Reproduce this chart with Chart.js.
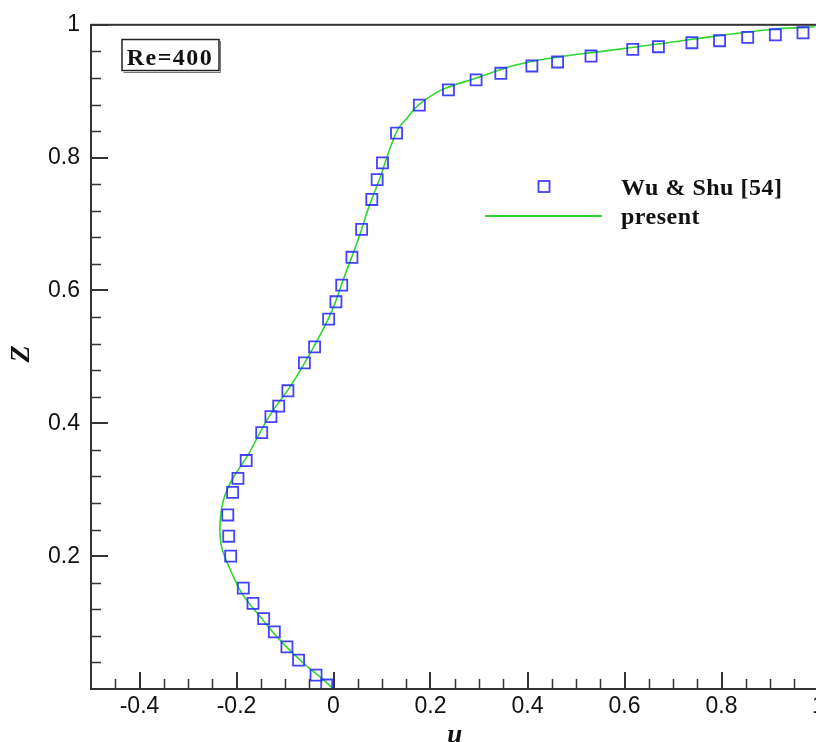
<!DOCTYPE html>
<html>
<head>
<meta charset="utf-8">
<script src="https://cdn.jsdelivr.net/npm/chart.js@4.4.1/dist/chart.umd.min.js"></script>
<style>
  html, body { margin: 0; padding: 0; background: #fff; overflow: hidden; }
  #wrap { position: absolute; left: 0; top: 0; width: 832px; height: 742px; }
</style>
</head>
<body>
<div id="wrap"><canvas id="profileChart" width="832" height="742"></canvas></div>
<script>
// --- DATA ---

// Wu & Shu [54] reference points: u velocity vs Z
const wuShuU = [-0.014, -0.036, -0.072, -0.096, -0.122, -0.144, -0.166, -0.186,
  -0.212, -0.216, -0.218, -0.208, -0.197, -0.180, -0.148, -0.129, -0.113, -0.094,
  -0.060, -0.039, -0.010, 0.005, 0.017, 0.038, 0.058, 0.079, 0.090, 0.101, 0.130,
  0.177, 0.237, 0.294, 0.345, 0.409, 0.462, 0.531, 0.617, 0.670, 0.739, 0.796,
  0.854, 0.911, 0.968];
const wuShuZ = [0.006, 0.021, 0.0435, 0.0635, 0.086, 0.106, 0.129, 0.152,
  0.200, 0.230, 0.262, 0.296, 0.317, 0.344, 0.386, 0.410, 0.426, 0.449,
  0.491, 0.515, 0.557, 0.583, 0.608, 0.650, 0.692, 0.737, 0.767, 0.792, 0.837,
  0.879, 0.902, 0.917, 0.927, 0.938, 0.944, 0.953, 0.963, 0.967, 0.973, 0.976,
  0.981, 0.985, 0.988];

// present solution (solid line)
const presentU = [0, -0.024, -0.065, -0.107, -0.148, -0.189, -0.210, -0.224, -0.232,
  -0.234, -0.227, -0.210, -0.175, -0.134, -0.086, -0.038, -0.0035, 0.024, 0.052,
  0.072, 0.093, 0.130, 0.151, 0.175, 0.223, 0.292, 0.374, 0.457, 0.553, 0.669,
  0.786, 0.902, 0.992];
const presentZ = [0, 0.016, 0.041, 0.071, 0.106, 0.144, 0.175, 0.199, 0.219,
  0.249, 0.284, 0.314, 0.354, 0.409, 0.459, 0.519, 0.569, 0.624, 0.679,
  0.724, 0.764, 0.839, 0.859, 0.879, 0.902, 0.919, 0.939, 0.951, 0.960, 0.971,
  0.983, 0.993, 0.997];

// ticks
const xMajorTicks = [-0.4, -0.2, 0, 0.2, 0.4, 0.6, 0.8, 1];
const xTickLabels = ['-0.4', '-0.2', '0', '0.2', '0.4', '0.6', '0.8', '1'];
const xMinorTicks = [-0.45, -0.35, -0.3, -0.25, -0.15, -0.1, -0.05, 0.05, 0.1, 0.15,
  0.25, 0.3, 0.35, 0.45, 0.5, 0.55, 0.65, 0.7, 0.75, 0.85, 0.9, 0.95];
const yMajorTicks = [0, 0.2, 0.4, 0.6, 0.8, 1];
const yTickLabels = ['', '0.2', '0.4', '0.6', '0.8', '1'];
const yMinorTicks = [0.04, 0.08, 0.12, 0.16, 0.24, 0.28, 0.32, 0.36, 0.44, 0.48, 0.52, 0.56,
  0.64, 0.68, 0.72, 0.76, 0.84, 0.88, 0.92, 0.96];

const SQUARE_COLOR = 'rgba(45,45,255,0.9)';
const LINE_COLOR = '#2fd62f';
const AXIS_COLOR = '#333';

const toPoints = (xs, ys) => xs.map((x, i) => ({ x: x, y: ys[i] }));

// frame, inward ticks, legend, labels
const framePlugin = {
  id: 'frame',
  afterDatasetsDraw(chart) {
    const ctx = chart.ctx;
    const a = chart.chartArea;
    const xs = chart.scales.x, ys = chart.scales.y;
    ctx.save();
    ctx.strokeStyle = AXIS_COLOR;

    // ticks (pointing inward)
    ctx.lineWidth = 1.5;
    ctx.beginPath();
    xMinorTicks.forEach(v => {
      const px = Math.round(xs.getPixelForValue(v)) + 0.5;
      ctx.moveTo(px, a.bottom); ctx.lineTo(px, a.bottom - 10);
    });
    yMinorTicks.forEach(v => {
      const py = Math.round(ys.getPixelForValue(v)) + 0.5;
      ctx.moveTo(a.left, py); ctx.lineTo(a.left + 10, py);
    });
    ctx.stroke();
    ctx.lineWidth = 2;
    ctx.beginPath();
    xMajorTicks.forEach(v => {
      const px = Math.round(xs.getPixelForValue(v));
      ctx.moveTo(px, a.bottom); ctx.lineTo(px, a.bottom - 17);
    });
    yMajorTicks.forEach(v => {
      const py = Math.round(ys.getPixelForValue(v));
      ctx.moveTo(a.left, py); ctx.lineTo(a.left + 17, py);
    });
    ctx.stroke();

    // frame
    ctx.lineWidth = 2;
    ctx.strokeRect(a.left, a.top, a.right - a.left, a.bottom - a.top);
    ctx.restore();
  },
  afterDraw(chart) {
    const ctx = chart.ctx;
    const a = chart.chartArea;
    ctx.save();

    // Re=400 box
    ctx.fillStyle = '#111';
    ctx.font = 'bold 24px "Liberation Serif", "Times New Roman", serif';
    ctx.letterSpacing = '1.5px';
    ctx.textAlign = 'center';
    ctx.textBaseline = 'alphabetic';
    ctx.fillText('Re=400', 170, 65);
    ctx.strokeStyle = '#222';
    ctx.lineWidth = 1.5;
    ctx.strokeRect(122, 39.5, 97, 31);
    ctx.strokeStyle = '#777';
    ctx.lineWidth = 1;
    ctx.beginPath();
    ctx.moveTo(123.5, 72.5); ctx.lineTo(220.5, 72.5); ctx.lineTo(220.5, 41);
    ctx.stroke();

    // legend
    ctx.strokeStyle = SQUARE_COLOR;
    ctx.lineWidth = 1.8;
    ctx.strokeRect(544 - 5.5, 186.5 - 5.5, 11, 11);
    ctx.strokeStyle = LINE_COLOR;
    ctx.lineWidth = 2;
    ctx.beginPath();
    ctx.moveTo(485, 216); ctx.lineTo(602, 216);
    ctx.stroke();
    ctx.fillStyle = '#111';
    ctx.letterSpacing = '0.5px';
    ctx.textAlign = 'left';
    ctx.fillText('Wu & Shu [54]', 621, 194.5);
    ctx.fillText('present', 621, 223.5);

    // axis titles
    ctx.letterSpacing = '0px';
    ctx.font = 'italic bold 27px "Liberation Serif", "Times New Roman", serif';
    ctx.textAlign = 'center';
    ctx.fillText('u', (a.left + a.right) / 2, 743);
    ctx.translate(22, 354);
    ctx.rotate(-Math.PI / 2);
    ctx.textBaseline = 'middle';
    ctx.font = 'italic bold 28px "Liberation Serif", "Times New Roman", serif';
    ctx.fillText('Z', 0, 0);
    ctx.restore();
  }
};

const tickFont = { family: '"Liberation Sans", Arial, sans-serif', size: 23 };

const profileChart = new Chart(document.getElementById('profileChart').getContext('2d'), {
  type: 'scatter',
  data: {
    datasets: [
      {
        label: 'present',
        data: toPoints(presentU, presentZ),
        showLine: true,
        borderColor: LINE_COLOR,
        borderWidth: 1.6,
        pointRadius: 0,
        tension: 0.4,
        fill: false,
        order: 2
      },
      {
        label: 'Wu & Shu [54]',
        data: toPoints(wuShuU, wuShuZ),
        showLine: false,
        pointStyle: 'rect',
        pointRadius: 7.8,
        pointBorderWidth: 1.8,
        pointBorderColor: SQUARE_COLOR,
        pointBackgroundColor: 'rgba(0,0,0,0)',
        order: 1
      }
    ]
  },
  options: {
    responsive: false,
    animation: false,
    devicePixelRatio: 1,
    layout: { padding: { top: 23, right: 13.5, left: 0, bottom: 0 } },
    plugins: { legend: { display: false }, tooltip: { enabled: false } },
    scales: {
      x: {
        type: 'linear',
        min: -0.5,
        max: 1,
        grid: { display: false, drawTicks: false },
        border: { display: false },
        afterBuildTicks: s => { s.ticks = xMajorTicks.map(v => ({ value: v })); },
        afterFit: s => { s.height = 742 - 689; },
        ticks: {
          callback: (v, i) => xTickLabels[i],
          font: tickFont,
          color: '#111',
          padding: 4,
          maxRotation: 0,
          autoSkip: false
        }
      },
      y: {
        type: 'linear',
        min: 0,
        max: 1,
        grid: { display: false, drawTicks: false },
        border: { display: false },
        afterBuildTicks: s => { s.ticks = yMajorTicks.map(v => ({ value: v })); },
        afterFit: s => { s.width = 91; },
        ticks: {
          callback: (v, i) => yTickLabels[i],
          font: tickFont,
          color: '#111',
          padding: 11,
          autoSkip: false
        }
      }
    }
  },
  plugins: [framePlugin]
});
</script>
</body>
</html>
